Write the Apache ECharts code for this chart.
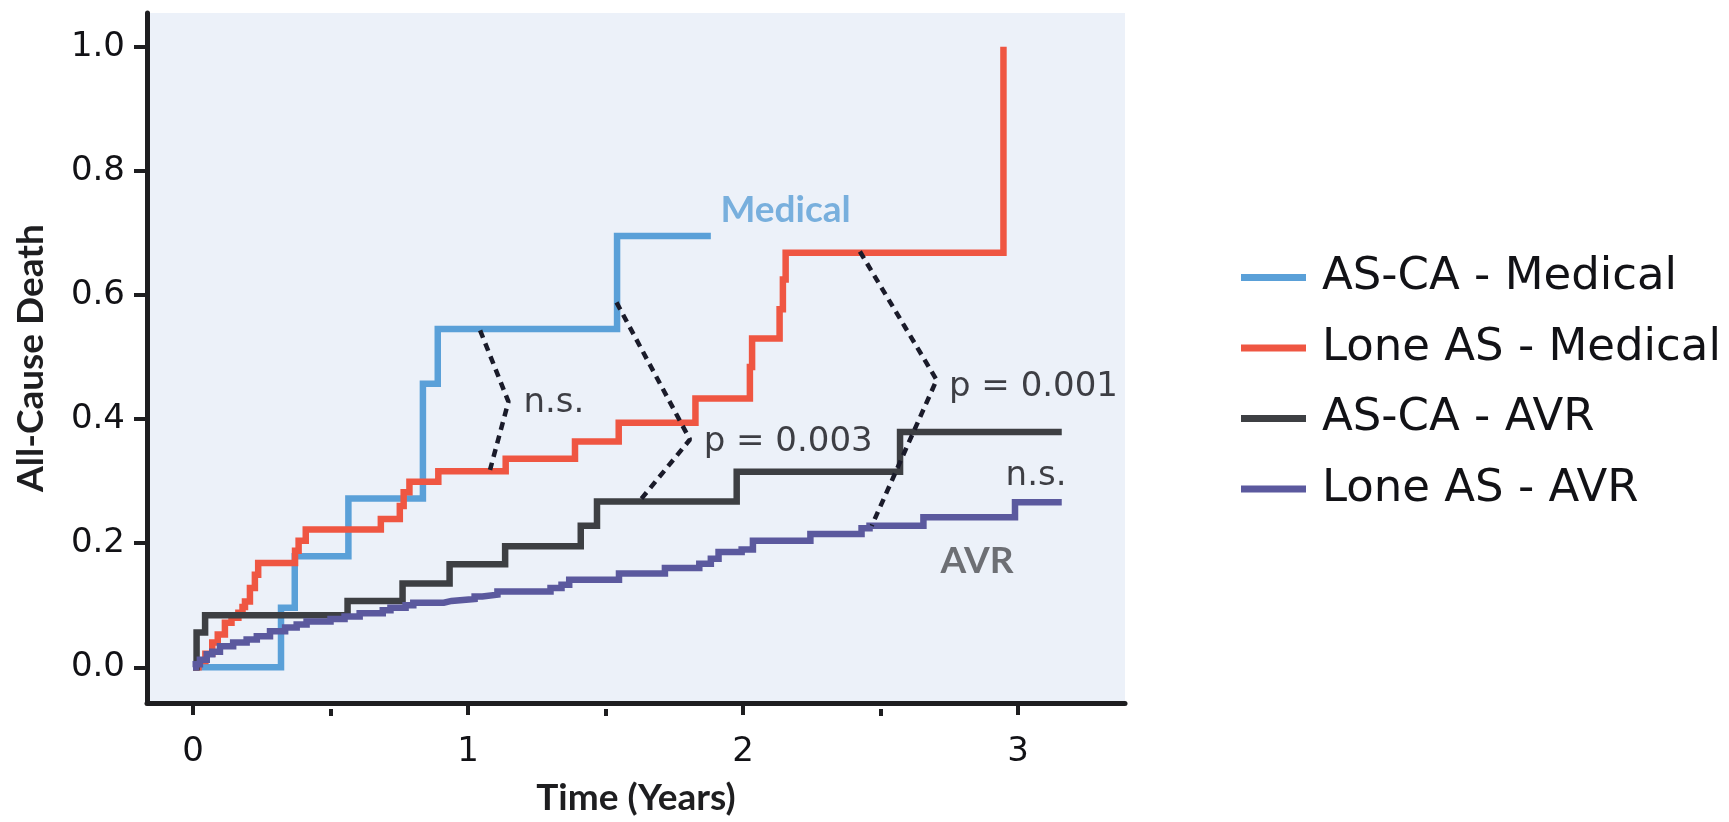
<!DOCTYPE html>
<html>
<head>
<meta charset="utf-8">
<script src="https://cdn.jsdelivr.net/npm/echarts@6/dist/echarts.min.js"></script>
<style>
html,body{margin:0;padding:0;background:#fff;}
#chart{width:1729px;height:822px;}
</style>
</head>
<body>
<div id="chart"></div>
<script>
// ---- data (time in years, cumulative all-cause death) ----
const seriesNames = ['AS-CA - Medical', 'Lone AS - Medical', 'AS-CA - AVR', 'Lone AS - AVR'];

const asCaMedical = [[0,0],[0.32,0.096],[0.37,0.179],[0.565,0.272],[0.836,0.457],[0.89,0.545],[1.542,0.695],[1.883,0.695]];

const loneAsMedical = [[0,0],[0.02,0.01],[0.045,0.022],[0.07,0.04],[0.09,0.053],[0.116,0.072],[0.14,0.08],[0.165,0.088],[0.18,0.097],[0.189,0.106],[0.207,0.128],[0.225,0.149],[0.237,0.168],[0.371,0.188],[0.384,0.204],[0.41,0.222],[0.683,0.239],[0.752,0.26],[0.766,0.282],[0.787,0.299],[0.892,0.316],[1.137,0.336],[1.389,0.364],[1.548,0.394],[1.827,0.433],[2.025,0.484],[2.033,0.53],[2.133,0.577],[2.145,0.625],[2.155,0.668],[2.947,1.0]];

const asCaAvr = [[0,0],[0.013,0.056],[0.044,0.084],[0.562,0.107],[0.762,0.135],[0.933,0.166],[1.135,0.195],[1.41,0.228],[1.469,0.267],[1.977,0.315],[2.571,0.379],[3.159,0.379]];

const loneAsAvr = [[0,0],[0.01,0.005],[0.025,0.012],[0.05,0.021],[0.07,0.025],[0.098,0.034],[0.146,0.04],[0.195,0.045],[0.232,0.05],[0.28,0.058],[0.335,0.064],[0.377,0.069],[0.413,0.074],[0.5,0.078],[0.551,0.082],[0.606,0.087],[0.69,0.092],[0.718,0.096],[0.773,0.1],[0.801,0.104],[0.912,0.107],[0.94,0.11],[1.024,0.114],[1.052,0.117],[1.107,0.122],[1.3,0.128],[1.34,0.133],[1.368,0.141],[1.549,0.151],[1.716,0.16],[1.841,0.167],[1.883,0.175],[1.911,0.186],[1.995,0.19],[2.036,0.204],[2.245,0.215],[2.431,0.224],[2.46,0.228],[2.656,0.242],[2.989,0.266],[3.159,0.266]];

// comparison brackets (dotted)
const bracketNs1 = [[1.044,0.543],[1.147,0.428],[1.08,0.318]];
const bracketP003 = [[1.54,0.588],[1.807,0.367],[1.62,0.266]];
const bracketP001 = [[2.425,0.67],[2.704,0.463],[2.468,0.228]];

// annotation texts and their anchor (left edge, vertical middle) in data units
const annotTexts = ['n.s.', 'p = 0.003', 'p = 0.001', 'n.s.', 'Medical', 'AVR'];
const annotX = [1.2, 1.855, 2.747, 2.953, 1.916, 2.716];
const annotY = [0.425, 0.362, 0.452, 0.308, 0.737, 0.172];

// axis ticks
const xTicks = [0, 1, 2, 3];
const xMinorTicks = [0.5, 1.5, 2.5];
const yTicks = [0, 0.2, 0.4, 0.6, 0.8, 1.0];

// ---- chart ----
const colors = ['#5AA0D8', '#EF5642', '#3D3F43', '#5B599E'];
const FONT = 'DejaVu Sans';
const BOLD_FONT = 'Lato';
const axisColor = '#1E1E20';
const textColor = '#121216';
const xMin = -0.1673, xMax = 3.389, yMin = -0.0575, yMax = 1.0543;

const annotStyles = [
  {fontFamily: FONT, fontSize: 34, fontWeight: 'normal', color: textColor},
  {fontFamily: FONT, fontSize: 34, fontWeight: 'normal', color: textColor},
  {fontFamily: FONT, fontSize: 34, fontWeight: 'normal', color: textColor},
  {fontFamily: FONT, fontSize: 34, fontWeight: 'normal', color: textColor},
  {fontFamily: BOLD_FONT, fontSize: 37, fontWeight: 'bold', color: '#5B9FD6'},
  {fontFamily: BOLD_FONT, fontSize: 37, fontWeight: 'bold', color: '#4E4F52'}
];

const lineSeries = [asCaMedical, loneAsMedical, asCaAvr, loneAsAvr].map((d, i) => ({
  name: seriesNames[i],
  type: 'line',
  step: 'end',
  data: d,
  showSymbol: false,
  symbol: 'none',
  lineStyle: {color: colors[i], width: 6.5, cap: 'butt', join: 'miter'},
  itemStyle: {color: colors[i]},
  z: 3 + i
}));

const bracketSeries = [bracketNs1, bracketP003, bracketP001].map(d => ({
  type: 'line',
  data: d,
  showSymbol: false,
  symbol: 'none',
  silent: true,
  lineStyle: {color: '#1A1B2A', width: 4.5, type: [8, 6]},
  z: 10
}));

const annotSeries = {
  type: 'scatter',
  symbolSize: 1,
  itemStyle: {color: 'rgba(0,0,0,0)'},
  silent: true,
  z: 11,
  data: annotTexts.map((t, i) => ({
    value: [annotX[i], annotY[i]],
    label: Object.assign({
      show: true,
      formatter: t,
      position: 'right',
      distance: 0,
      align: 'left',
      verticalAlign: 'middle'
    }, annotStyles[i])
  }))
};

const chart = echarts.init(document.getElementById('chart'), null, {renderer: 'canvas'});
chart.setOption({
  animation: false,
  backgroundColor: '#ffffff',
  textStyle: {fontFamily: FONT},
  grid: {left: 147, top: 13, right: 604, bottom: 113, show: true, backgroundColor: '#ECF1F9', borderWidth: 0},
  legend: {
    data: seriesNames,
    orient: 'vertical',
    left: 1236,
    top: 250,
    itemWidth: 65,
    itemHeight: 7,
    itemGap: 25.5,
    icon: 'rect',
    textStyle: {fontFamily: FONT, fontSize: 45, color: textColor, padding: [0, 0, 0, 11]}
  },
  xAxis: [{
    type: 'value',
    min: xMin,
    max: xMax,
    position: 'bottom',
    name: 'Time (Years)',
    nameLocation: 'middle',
    nameGap: 77,
    nameMoveOverlap: false,
    nameTextStyle: {fontFamily: BOLD_FONT, fontSize: 37, fontWeight: 'bold', color: axisColor},
    axisLine: {show: true, onZero: false, lineStyle: {color: axisColor, width: 5}},
    axisTick: {show: true, customValues: xTicks, length: 12, lineStyle: {color: axisColor, width: 4}},
    axisLabel: {show: true, customValues: xTicks, margin: 32, fontFamily: FONT, fontSize: 34, color: textColor},
    splitLine: {show: false}
  }, {
    type: 'value',
    min: xMin,
    max: xMax,
    position: 'top',
    offset: -696,
    axisLine: {show: false, onZero: false},
    axisTick: {show: true, inside: true, customValues: xMinorTicks, length: 7, lineStyle: {color: axisColor, width: 4}},
    axisLabel: {show: false},
    splitLine: {show: false}
  }],
  yAxis: {
    type: 'value',
    min: yMin,
    max: yMax,
    name: 'All-Cause Death',
    nameLocation: 'middle',
    nameGap: 97,
    nameMoveOverlap: false,
    nameTextStyle: {fontFamily: BOLD_FONT, fontSize: 37, fontWeight: 'bold', color: axisColor},
    axisLine: {show: true, onZero: false, lineStyle: {color: axisColor, width: 5}},
    axisTick: {show: true, customValues: yTicks, length: 13, lineStyle: {color: axisColor, width: 4}},
    axisLabel: {show: true, customValues: yTicks, margin: 22, fontFamily: FONT, fontSize: 34, color: textColor,
      formatter: v => v.toFixed(1)},
    splitLine: {show: false}
  },
  series: lineSeries.concat(bracketSeries, [annotSeries])
});
</script>
</body>
</html>
